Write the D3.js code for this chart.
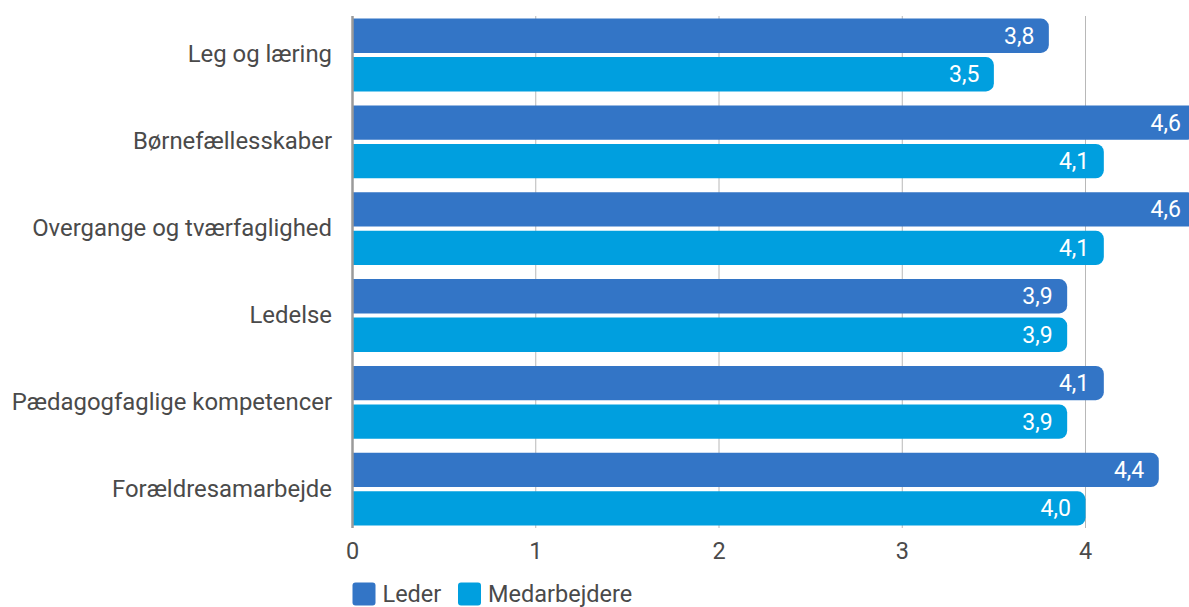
<!DOCTYPE html>
<html>
<head>
<meta charset="utf-8">
<script src="https://cdn.jsdelivr.net/npm/d3@7/dist/d3.min.js"></script>
<style>
  html, body { margin: 0; padding: 0; background: #fff; }
  svg { display: block; font-family: Roboto, "Noto Sans", sans-serif; }
</style>
</head>
<body>
<svg id="chart" width="1189" height="607"></svg>
<script>
const categories = ["Leg og læring", "Børnefællesskaber", "Overgange og tværfaglighed", "Ledelse", "Pædagogfaglige kompetencer", "Forældresamarbejde"];
const seriesNames = ["Leder", "Medarbejdere"];
const lederValues = [3.8, 4.6, 4.6, 3.9, 4.1, 4.4];
const medarbejdereValues = [3.5, 4.1, 4.1, 3.9, 3.9, 4.0];
const xTicks = [0, 1, 2, 3, 4];
const colors = ["#3375c6", "#009fdf"];

const series = [lederValues, medarbejdereValues];
const svg = d3.select("#chart");

const x = d3.scaleLinear().domain([0, 5]).range([352.5, 1268.75]);
const y = d3.scaleBand().domain(categories).range([11.6, 532.6]).padding(0);
const ySub = d3.scaleBand().domain(seriesNames).range([7, 79.8]).paddingInner(0.11).paddingOuter(0);

// gridlines
svg.append("g").selectAll("line").data(xTicks.filter(d => d > 0)).join("line")
  .attr("x1", d => x(d)).attr("x2", d => x(d))
  .attr("y1", 16).attr("y2", 528)
  .attr("stroke", "#b8b8b8").attr("stroke-width", 1);

const fmt = v => d3.format(".1f")(v).replace(".", ",");

function barPath(x0, y0, w, h, r) {
  r = Math.min(r, w, h / 2);
  return `M${x0},${y0}H${x0 + w - r}A${r},${r} 0 0 1 ${x0 + w},${y0 + r}V${y0 + h - r}A${r},${r} 0 0 1 ${x0 + w - r},${y0 + h}H${x0}Z`;
}

const rows = svg.append("g").selectAll("g").data(categories).join("g")
  .attr("transform", d => `translate(0,${y(d)})`);

seriesNames.forEach((s, si) => {
  rows.append("path")
    .attr("d", (c, i) => barPath(x(0), ySub(s), x(series[si][i]) - x(0), ySub.bandwidth(), 8))
    .attr("fill", colors[si]);
  rows.append("text")
    .attr("x", (c, i) => x(series[si][i]) - 14.5)
    .attr("y", ySub(s) + ySub.bandwidth() / 2)
    .attr("dy", "0.35em")
    .attr("text-anchor", "end")
    .attr("fill", "#fff")
    .attr("font-size", 23)
    .text((c, i) => fmt(series[si][i]));
});

// category labels
rows.append("text")
  .attr("x", 332)
  .attr("y", y.bandwidth() / 2 - 1)
  .attr("dy", "0.35em")
  .attr("text-anchor", "end")
  .attr("fill", "#4a4a4a")
  .attr("font-size", 23.9)
  .text(d => d);

// zero axis line
svg.append("line")
  .attr("x1", x(0)).attr("x2", x(0)).attr("y1", 16).attr("y2", 528)
  .attr("stroke", "#9a9a9a").attr("stroke-width", 2.5);

// x tick labels
svg.append("g").selectAll("text").data(xTicks).join("text")
  .attr("x", d => x(d)).attr("y", 551).attr("dy", "0.35em")
  .attr("text-anchor", "middle").attr("fill", "#4a4a4a").attr("font-size", 23.5)
  .text(d => d);

// legend
const legendX = [352.5, 458];
const lg = svg.append("g").selectAll("g").data(seriesNames).join("g")
  .attr("transform", (d, i) => `translate(${legendX[i]},582.5)`);
lg.append("rect").attr("width", 23).attr("height", 23).attr("rx", 3)
  .attr("fill", (d, i) => colors[i]);
lg.append("text").attr("x", 30).attr("y", 11.5).attr("dy", "0.35em")
  .attr("fill", "#4a4a4a").attr("font-size", 23.5).text(d => d);
</script>
</body>
</html>
